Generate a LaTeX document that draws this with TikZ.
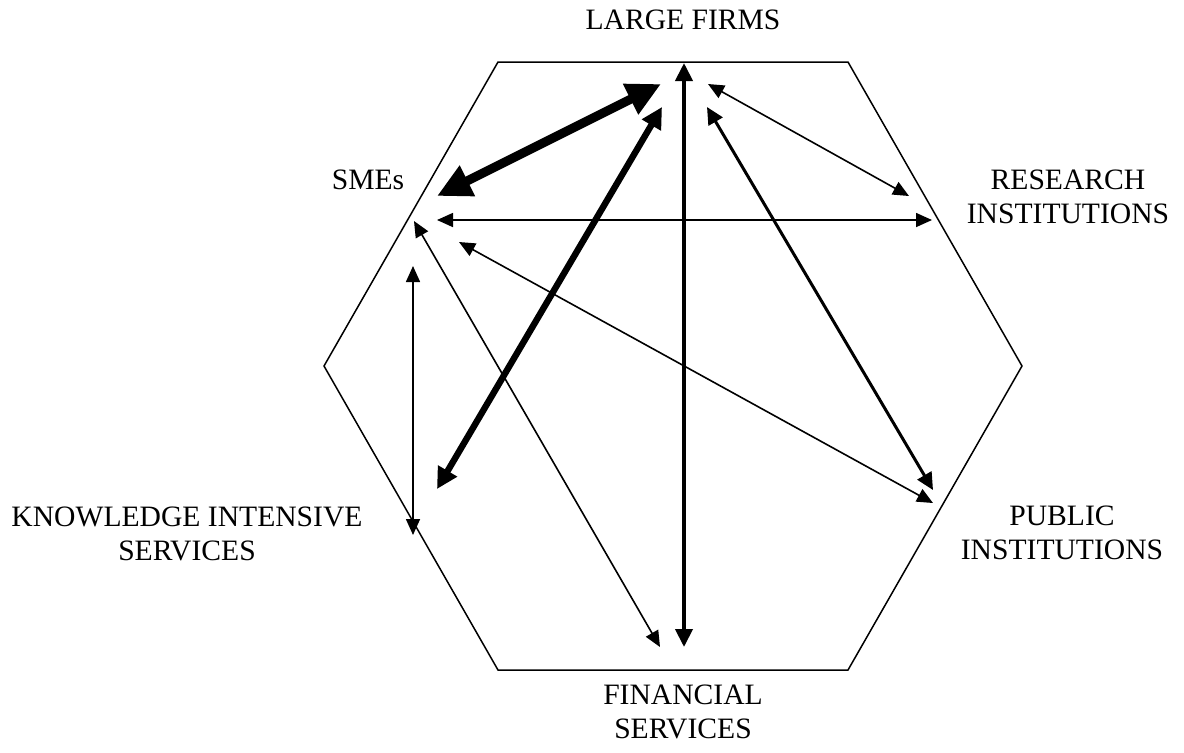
\documentclass[tikz,border=0pt]{standalone}
\usepackage{fontspec}
\setmainfont{Liberation Serif}
\usetikzlibrary{arrows.meta}

\begin{document}
\begin{tikzpicture}[x=0.5pt,y=-0.5pt]
  \tikzstyle{actor}=[inner sep=0pt, align=center, font=\fontsize{14.8}{17}\selectfont]
  \tikzstyle{thin link}=[line width=0.8pt, {Triangle[length=8pt,width=7pt]}-{Triangle[length=8pt,width=7pt]}]
  \tikzstyle{mid link}=[line width=1.5pt, {Triangle[length=8.5pt,width=8pt]}-{Triangle[length=8.5pt,width=8pt]}]
  \tikzstyle{strong link}=[line width=2pt, {Triangle[length=9pt,width=8.5pt]}-{Triangle[length=9pt,width=8.5pt]}]
  \tikzstyle{heavy link}=[line width=3.2pt, {Triangle[length=10.5pt,width=10.5pt]}-{Triangle[length=10.5pt,width=10.5pt]}]
  \tikzstyle{main link}=[line width=4.5pt, {Triangle[length=17pt,width=16pt]}-{Triangle[length=17pt,width=16pt]}]
  \useasboundingbox (0,0) rectangle (1184,752);

  % hexagon
  \coordinate (H_1) at (498,62);
  \coordinate (H_2) at (848,62);
  \coordinate (H_3) at (1022,366);
  \coordinate (H_4) at (848,670);
  \coordinate (H_5) at (498,670);
  \coordinate (H_6) at (324,366);
  \draw[line width=0.75pt] (H_1) -- (H_2) -- (H_3) -- (H_4) -- (H_5) -- (H_6) -- cycle;

  % actors
  \node[actor] (large) at (683,20) {LARGE FIRMS};
  \node[actor] (sme) at (368,180) {SMEs};
  \node[actor] (research) at (1068,197) {RESEARCH\\INSTITUTIONS};
  \node[actor] (public) at (1062,533) {PUBLIC\\INSTITUTIONS};
  \node[actor] (kis) at (187,534) {KNOWLEDGE INTENSIVE\\SERVICES};
  \node[actor] (finance) at (683,712) {FINANCIAL\\SERVICES};

  % arrow ends
  \coordinate (L_1) at (661,84);
  \coordinate (L_2) at (662,107);
  \coordinate (L_3) at (684,63);
  \coordinate (L_4) at (707,107);
  \coordinate (L_5) at (708,84);
  \coordinate (S_1) at (437,196);
  \coordinate (S_2) at (437,220);
  \coordinate (S_3) at (414,221);
  \coordinate (S_4) at (459,242);
  \coordinate (K_1) at (413,266);
  \coordinate (K_2) at (413,535);
  \coordinate (K_3) at (437,489);
  \coordinate (R_1) at (909,196);
  \coordinate (R_2) at (932,220);
  \coordinate (P_1) at (933,490);
  \coordinate (P_2) at (933,503);
  \coordinate (F_1) at (660,647);
  \coordinate (F_2) at (684,647);

  \draw[main link] (S_1) -- (L_1);
  \draw[heavy link] (K_3) -- (L_2);
  \draw[strong link] (L_3) -- (F_2);
  \draw[mid link] (L_4) -- (P_1);
  \draw[thin link] (L_5) -- (R_1);
  \draw[thin link] (S_2) -- (R_2);
  \draw[thin link] (S_4) -- (P_2);
  \draw[thin link] (S_3) -- (F_1);
  \draw[thin link] (K_1) -- (K_2);
\end{tikzpicture}
\end{document}
